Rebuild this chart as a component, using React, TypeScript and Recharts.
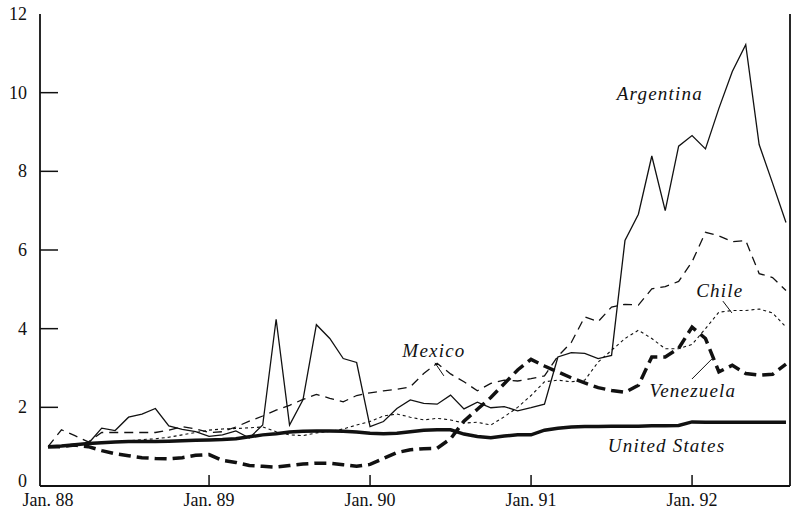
import { LineChart, Line, XAxis, YAxis, ReferenceDot, ReferenceLine } from 'recharts';

const INK = '#111';
const SERIF = '"Liberation Serif", "Times New Roman", serif';

// months since Jan. 88 are taken from the array index
const yearTicks = [0, 12, 24, 36, 48];
const yearLabels = ['Jan. 88', 'Jan. 89', 'Jan. 90', 'Jan. 91', 'Jan. 92'];
const valueTicks = [0, 2, 4, 6, 8, 10, 12];

const argentina = [
  1.0, 1.02, 1.05, 1.08, 1.47, 1.41, 1.75, 1.83, 1.97, 1.53,
  1.44, 1.38, 1.26, 1.3, 1.4, 1.22, 1.55, 4.24, 1.55, 2.19,
  4.1, 3.75, 3.24, 3.14, 1.51, 1.64, 1.97, 2.19, 2.1, 2.08,
  2.31, 1.96, 2.13, 1.99, 2.02, 1.91, 1.99, 2.08, 3.28, 3.39,
  3.37, 3.24, 3.32, 6.24, 6.91, 8.39, 7.0, 8.64, 8.91, 8.57,
  9.6, 10.54, 11.22, 8.68, 7.7, 6.7,
];
const mexico = [
  1.0, 1.43, 1.28, 1.12, 1.36, 1.36, 1.36, 1.36, 1.36, 1.42,
  1.51, 1.45, 1.36, 1.38, 1.5, 1.65, 1.78, 1.93, 2.05, 2.2,
  2.33, 2.23, 2.14, 2.3, 2.37, 2.42, 2.46, 2.52, 2.86, 3.12,
  2.85, 2.65, 2.42, 2.61, 2.69, 2.67, 2.73, 2.8, 3.3, 3.65,
  4.3, 4.18, 4.55, 4.62, 4.6, 5.01, 5.07, 5.2, 5.7, 6.45,
  6.36, 6.21, 6.24, 5.4, 5.3, 4.97,
];
const chile = [
  1.0, 1.03, 1.05, 1.08, 1.1, 1.12, 1.15, 1.18, 1.2, 1.24,
  1.3, 1.36, 1.42, 1.45, 1.46, 1.48, 1.5, 1.38, 1.3, 1.28,
  1.35, 1.39, 1.45, 1.55, 1.64, 1.78, 1.83, 1.75, 1.68, 1.72,
  1.68, 1.6, 1.62, 1.55, 1.76, 2.0, 2.3, 2.65, 2.69, 2.65,
  2.69, 3.15, 3.45, 3.75, 3.96, 3.75, 3.49, 3.49, 3.6, 4.0,
  4.42, 4.46, 4.46, 4.5, 4.4, 4.04,
];
const venezuela = [
  1.0, 1.0, 1.04, 1.0, 0.9, 0.82, 0.77, 0.72, 0.7, 0.69,
  0.72, 0.78, 0.8, 0.65, 0.6, 0.52, 0.5, 0.48, 0.52, 0.56,
  0.58, 0.58, 0.54, 0.5, 0.55, 0.7, 0.85, 0.92, 0.95, 0.96,
  1.2, 1.65, 1.95, 2.25, 2.6, 2.95, 3.22, 3.05, 2.9, 2.75,
  2.62, 2.5, 2.43, 2.38, 2.56, 3.28, 3.28, 3.5, 4.04, 3.75,
  2.9, 3.07, 2.86, 2.82, 2.84, 3.1,
];
const unitedStates = [
  1.0, 1.02, 1.05, 1.08, 1.1, 1.12, 1.13, 1.13, 1.13, 1.14,
  1.15, 1.16, 1.17, 1.18, 1.2, 1.25, 1.3, 1.33, 1.37, 1.39,
  1.4, 1.4, 1.39, 1.37, 1.34, 1.33, 1.34, 1.38, 1.42, 1.43,
  1.43, 1.32, 1.26, 1.23, 1.27, 1.3, 1.3, 1.42, 1.47, 1.5,
  1.51, 1.51, 1.52, 1.52, 1.52, 1.53, 1.53, 1.54, 1.63, 1.62,
  1.62, 1.62, 1.62, 1.62, 1.62, 1.62,
];

const data = argentina.map((v, i) => ({
  t: i,
  argentina: v,
  mexico: mexico[i],
  chile: chile[i],
  venezuela: venezuela[i],
  us: unitedStates[i],
}));

const X_DOMAIN: [number, number] = [-0.6, 55.3];

const BottomTick = (props: any) => {
  const { x, y, payload, index } = props;
  return (
    <g>
      {payload.value > 0 && <line x1={x} y1={y} x2={x} y2={y - 11} stroke={INK} strokeWidth={1.5} />}
      <text x={x} y={y + 20} textAnchor="middle" fontSize={18} fontFamily={SERIF} fill={INK}>
        {yearLabels[index]}
      </text>
    </g>
  );
};

const LeftTick = (props: any) => {
  const { x, y, payload } = props;
  const v = payload.value;
  // the 0 sits a little higher so it clears the first month label
  const baseline = v === 0 ? y + 1 : y + 6;
  return (
    <g>
      {v > 0 && v < 12 && <line x1={x} y1={y} x2={x + 18} y2={y} stroke={INK} strokeWidth={1.5} />}
      <text x={x - 13} y={baseline} textAnchor="end" fontSize={18} fontFamily={SERIF} fill={INK}>
        {v}
      </text>
    </g>
  );
};

const RightTick = (props: any) => {
  const { x, y, payload } = props;
  const v = payload.value;
  if (v <= 0 || v >= 12) return <g />;
  return <line x1={x} y1={y} x2={x - 18} y2={y} stroke={INK} strokeWidth={1.5} />;
};

const seriesLabel = (text: string) => (p: any) => (
  <text
    x={p.cx}
    y={p.cy}
    dy="0.35em"
    textAnchor="middle"
    fontSize={19}
    fontStyle="italic"
    letterSpacing={1.2}
    fontFamily={SERIF}
    fill={INK}
  >
    {text}
  </text>
);

const labels = [
  { text: 'Argentina', t: 45.6, v: 9.97 },
  { text: 'Chile', t: 50.07, v: 4.98 },
  { text: 'Mexico', t: 28.76, v: 3.46 },
  { text: 'Venezuela', t: 48.06, v: 2.42 },
  { text: 'United States', t: 46.1, v: 1.04 },
];

const leaders = [
  [{ x: 28.84, y: 3.13 }, { x: 29.5, y: 2.8 }],
  [{ x: 50.3, y: 4.7 }, { x: 50.97, y: 4.4 }],
  [{ x: 47.99, y: 2.72 }, { x: 49.48, y: 3.23 }],
];

export default function App() {
  return (
    <div style={{ position: 'absolute', left: 0, top: 0, width: 794, height: 515, background: '#fff' }}>
      <LineChart width={794} height={515} data={data} margin={{ top: 14, right: 0, bottom: 0, left: 0 }}>
        <XAxis
          xAxisId="b"
          dataKey="t"
          type="number"
          domain={X_DOMAIN}
          ticks={yearTicks}
          interval={0}
          height={29}
          tickSize={0}
          tickMargin={0}
          tickLine={false}
          tick={<BottomTick />}
          axisLine={{ stroke: INK, strokeWidth: 1.8 }}
          allowDataOverflow
        />
        <XAxis
          xAxisId="top"
          orientation="top"
          dataKey="t"
          type="number"
          domain={X_DOMAIN}
          height={0}
          tick={false}
          tickLine={false}
          axisLine={{ stroke: INK, strokeWidth: 1.8 }}
          allowDataOverflow
        />
        <YAxis
          yAxisId="l"
          domain={[0, 12]}
          ticks={valueTicks}
          interval={0}
          width={40}
          tickSize={0}
          tickMargin={0}
          tickLine={false}
          tick={<LeftTick />}
          axisLine={{ stroke: INK, strokeWidth: 1.8 }}
        />
        <YAxis
          yAxisId="r"
          orientation="right"
          domain={[0, 12]}
          ticks={valueTicks}
          interval={0}
          width={4}
          tickSize={0}
          tickMargin={0}
          tickLine={false}
          tick={<RightTick />}
          axisLine={{ stroke: INK, strokeWidth: 1.8 }}
        />

        <Line xAxisId="b" yAxisId="l" dataKey="chile" stroke={INK} strokeWidth={1.1} strokeDasharray="3 3" dot={false} isAnimationActive={false} />
        <Line xAxisId="b" yAxisId="l" dataKey="mexico" stroke={INK} strokeWidth={1.3} strokeDasharray="9 6" dot={false} isAnimationActive={false} />
        <Line xAxisId="b" yAxisId="l" dataKey="argentina" stroke={INK} strokeWidth={1.3} dot={false} isAnimationActive={false} />
        <Line xAxisId="b" yAxisId="l" dataKey="venezuela" stroke={INK} strokeWidth={3.5} strokeDasharray="12 6" dot={false} isAnimationActive={false} />
        <Line xAxisId="b" yAxisId="l" dataKey="us" stroke={INK} strokeWidth={3.5} dot={false} isAnimationActive={false} />

        {leaders.map((seg, i) => (
          <ReferenceLine key={i} xAxisId="b" yAxisId="l" segment={seg} stroke={INK} strokeWidth={1} />
        ))}
        {labels.map((l) => (
          <ReferenceDot key={l.text} xAxisId="b" yAxisId="l" x={l.t} y={l.v} r={0} shape={seriesLabel(l.text)} />
        ))}
      </LineChart>
    </div>
  );
}
